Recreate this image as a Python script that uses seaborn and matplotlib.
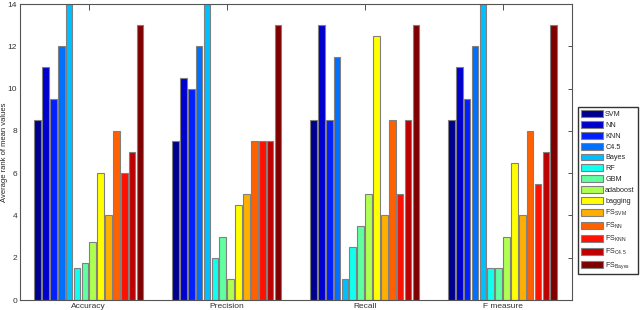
import matplotlib
matplotlib.use("Agg")
import matplotlib.pyplot as plt
import numpy as np
import pandas as pd
import seaborn as sns

metrics = ["Accuracy", "Precision", "Recall", "F measure"]
models = ["SVM", "NN", "KNN", "C4.5", "Bayes", "RF", "GBM", "adaboost", "bagging",
          r"FS$_{\mathrm{SVM}}$", r"FS$_{\mathrm{NN}}$", r"FS$_{\mathrm{KNN}}$",
          r"FS$_{\mathrm{C4.5}}$", r"FS$_{\mathrm{Bayes}}$"]

accuracy = [8.5, 11, 9.5, 12, 14, 1.5, 1.75, 2.75, 6, 4, 8, 6, 7, 13]
precision = [7.5, 10.5, 10, 12, 14, 2, 3, 1, 4.5, 5, 7.5, 7.5, 7.5, 13]
recall = [8.5, 13, 8.5, 11.5, 1, 2.5, 3.5, 5, 12.5, 4, 8.5, 5, 8.5, 13]
f_measure = [8.5, 11, 9.5, 12, 14, 1.5, 1.5, 3, 6.5, 4, 8, 5.5, 7, 13]

# matlab-style jet(64) sampled for 14 series
colors = ["#00008F", "#0000CF", "#0020FF", "#0070FF", "#00BFFF", "#10FFEF",
          "#60FF9F", "#AFFF50", "#FFFF00", "#FFAF00", "#FF6000", "#FF1000",
          "#BF0000", "#800000"]

rows = []
for metric, vals in zip(metrics, [accuracy, precision, recall, f_measure]):
    for m, v in zip(models, vals):
        rows.append({"metric": metric, "model": m, "rank": v})
df = pd.DataFrame(rows)

sns.set_style("white")
plt.rcParams["font.family"] = ["Liberation Sans", "DejaVu Sans"]
plt.rcParams["mathtext.fontset"] = "custom"
plt.rcParams["mathtext.rm"] = "Liberation Sans"

fig = plt.figure(figsize=(6.4, 3.1), dpi=100)
ax = fig.add_axes([0.031, 0.032, 0.862, 0.955])
sns.barplot(data=df, x="metric", y="rank", hue="model", palette=colors,
            saturation=1, width=0.8, gap=0.15, edgecolor="#808080",
            linewidth=0.8, ax=ax, legend=True)

ax.set_ylim(0, 14)
ax.set_xlim(-0.5, 3.5)
ax.set_yticks(range(0, 15, 2))
ax.set_xlabel("")
ax.set_ylabel("Average rank of mean values", fontsize=5.5)
ax.yaxis.set_label_coords(-0.021, 0.5)
ax.tick_params(axis="both", which="both", direction="in", labelsize=6,
               length=3, width=0.6, top=True, right=True, pad=2, colors="#333333")
ax.tick_params(axis="x", length=4)
for s in ax.spines.values():
    s.set_color("#555555")
    s.set_linewidth(0.8)

handles, labels = ax.get_legend_handles_labels()
ax.legend(handles, labels, loc="center left", bbox_to_anchor=(1.012, 0.37),
          fontsize=5.2, frameon=True, fancybox=False, edgecolor="black",
          handlelength=3.0, handleheight=1.1, labelspacing=0.4,
          borderpad=0.4, handletextpad=0.35, borderaxespad=0)

fig.savefig("out.png", dpi=100)
